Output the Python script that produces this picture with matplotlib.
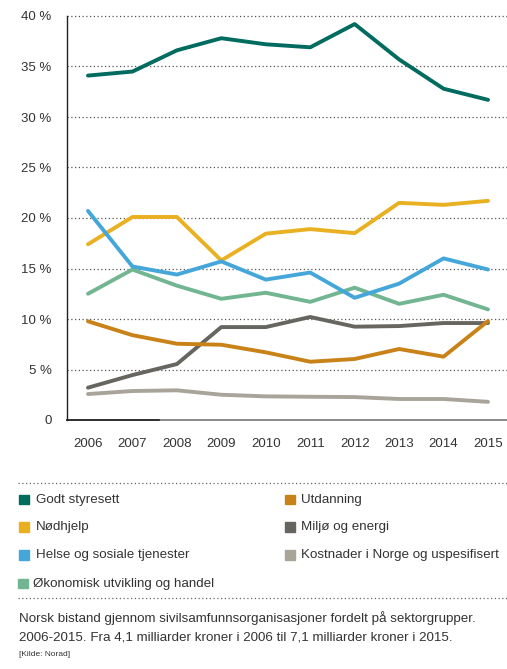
import matplotlib.pyplot as plt
from matplotlib.lines import Line2D
from matplotlib.patches import Rectangle

plt.rcParams['font.family'] = ['Liberation Sans', 'DejaVu Sans']

years = [2006, 2007, 2008, 2009, 2010, 2011, 2012, 2013, 2014, 2015]

godt = [34.1, 34.5, 36.6, 37.8, 37.2, 36.9, 39.2, 35.7, 32.8, 31.7]
nodhjelp = [17.4, 20.1, 20.1, 15.8, 18.45, 18.9, 18.5, 21.5, 21.3, 21.7]
helse = [20.7, 15.2, 14.4, 15.7, 13.9, 14.6, 12.1, 13.5, 16.0, 14.9]
okonomisk = [12.5, 14.9, 13.3, 12.0, 12.6, 11.7, 13.1, 11.5, 12.4, 10.95]
utdanning = [9.77, 8.4, 7.55, 7.45, 6.7, 5.77, 6.04, 7.03, 6.27, 9.8]
miljo = [3.2, 4.45, 5.54, 9.2, 9.2, 10.2, 9.24, 9.3, 9.6, 9.6]
kostnader = [2.57, 2.87, 2.94, 2.5, 2.34, 2.3, 2.27, 2.08, 2.08, 1.8]

names = ["Godt styresett", "Nødhjelp", "Helse og sosiale tjenester",
         "Økonomisk utvikling og handel", "Utdanning", "Miljø og energi",
         "Kostnader i Norge og uspesifisert"]
series = [godt, nodhjelp, helse, okonomisk, utdanning, miljo, kostnader]
colors = ["#006b5e", "#e9b121", "#45a6da", "#72b591", "#c98217", "#67655f", "#a9a49a"]

yticks = [0, 5, 10, 15, 20, 25, 30, 35, 40]
ylabels = ["0", "5 %", "10 %", "15 %", "20 %", "25 %", "30 %", "35 %", "40 %"]

txt = "#333333"
W, H = 507, 669
fig = plt.figure(figsize=(W / 100, H / 100), dpi=100)
ax = fig.add_axes([67 / W, 1 - 420 / H, 440 / W, (420 - 16) / H])

# draw order: lower lines first
order = [6, 5, 4, 3, 1, 2, 0]
for i in order:
    ax.plot(years, series[i], color=colors[i], lw=2.8, solid_capstyle='round',
            solid_joinstyle='round', zorder=3)

ax.set_xlim(2006 - 21 / 44.44, 2015 + 19 / 44.44)
ax.set_ylim(0, 40)
ax.set_xticks(years)
ax.set_xticklabels([str(y) for y in years])
ax.set_yticks(yticks)
ax.set_yticklabels(ylabels)
ax.tick_params(length=0, labelsize=9.5, colors=txt)
ax.tick_params(axis='x', pad=13)
ax.tick_params(axis='y', pad=11)

for y in yticks[1:]:
    ax.axhline(y, color="#555555", lw=0.9, ls=(0, (1, 2)), zorder=1, clip_on=False)

for s in ["top", "right", "bottom"]:
    ax.spines[s].set_visible(False)
ax.spines["left"].set_color("#222222")
ax.spines["left"].set_linewidth(1.0)
ax.axhline(0, color="#777777", lw=1.2, zorder=2, clip_on=False)
ax.axhline(0, xmin=0, xmax=92 / 440, color="#222222", lw=1.2, zorder=2, clip_on=False)

# legend area
def hline(ypx, x0=18):
    fig.add_artist(Line2D([x0 / W, 1], [1 - ypx / H, 1 - ypx / H], color="#666666",
                          lw=0.9, ls=(0, (1, 2)), transform=fig.transFigure))

hline(482.5)
hline(598)

rows = [499.5, 527, 555, 583.5]
positions = [(19, 36, rows[0]), (19, 36, rows[1]), (19, 36, rows[2]), (18, 33, rows[3]),
             (285, 301, rows[0]), (285, 301, rows[1]), (285, 301, rows[2])]
for (sx, tx, ry), name, c in zip(positions, names, colors):
    fig.add_artist(Rectangle((sx / W, 1 - (ry + 4.5) / H), 9.5 / W, 9.5 / H,
                             color=c, transform=fig.transFigure))
    fig.text(tx / W, 1 - ry / H, name, fontsize=9.6, color=txt, va='center', ha='left')

fig.text(19 / W, 1 - 618 / H,
         "Norsk bistand gjennom sivilsamfunnsorganisasjoner fordelt på sektorgrupper.",
         fontsize=9.6, color=txt, va='center', ha='left')
fig.text(19 / W, 1 - 637 / H,
         "2006-2015. Fra 4,1 milliarder kroner i 2006 til 7,1 milliarder kroner i 2015.",
         fontsize=9.6, color=txt, va='center', ha='left')
fig.text(19 / W, 1 - 654 / H, "[Kilde: Norad]", fontsize=6, color=txt, va='center', ha='left')

fig.savefig("out.png", dpi=100)
